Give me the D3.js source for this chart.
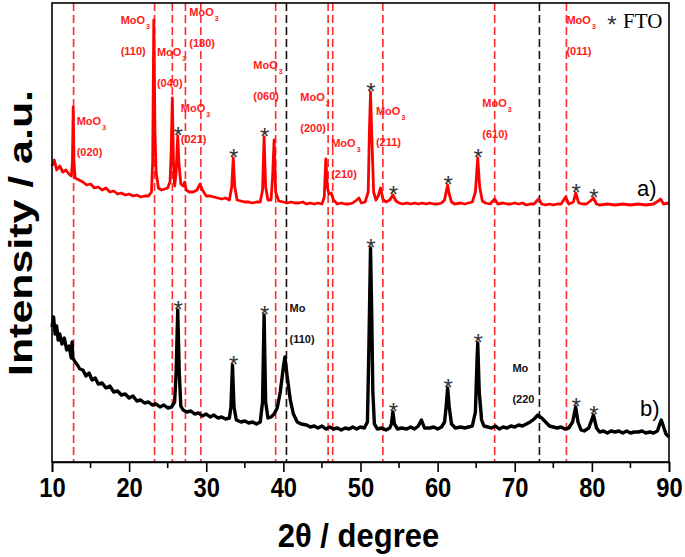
<!DOCTYPE html>
<html>
<head>
<meta charset="utf-8">
<script src="https://cdn.jsdelivr.net/npm/d3@7"></script>
<style>
  body { margin: 0; background: #fff; }
</style>
</head>
<body>
<svg id="chart" width="685" height="557" font-family="'Liberation Sans', Arial, sans-serif"></svg>
<script>
// XRD patterns, 2theta (degree) vs intensity (a.u.)
const seriesA = [
  [10.0, 296], [10.3, 302], [10.6, 292], [11.0, 296], [11.4, 290], [11.8, 292], [12.2, 288], [12.5, 286],
  [12.65, 300], [12.75, 355], [12.85, 300], [13.0, 284], [13.5, 282], [14.0, 280], [14.5, 277], [15.0, 278],
  [15.5, 274], [16.0, 275], [16.5, 272], [17.0, 274], [17.5, 270], [18.0, 271], [18.5, 268], [19.0, 269],
  [19.5, 267], [20.0, 268], [20.5, 266], [21.0, 267], [21.5, 265], [22.0, 266], [22.5, 266], [22.9, 270],
  [23.05, 300], [23.2, 442], [23.35, 330], [23.5, 290], [23.8, 274], [24.2, 272], [24.6, 273], [25.0, 274],
  [25.3, 280], [25.45, 310], [25.6, 364], [25.75, 300], [25.9, 276], [26.1, 290], [26.3, 326], [26.45, 300],
  [26.7, 278], [27.0, 276], [27.2, 280], [27.4, 272], [27.8, 270], [28.3, 270], [28.8, 272], [29.2, 278],
  [29.5, 272], [30.0, 266], [30.5, 266], [31.0, 265], [31.5, 264], [32.0, 263], [32.5, 264], [33.0, 262],
  [33.3, 275], [33.5, 304], [33.7, 275], [34.0, 262], [34.5, 261], [35.0, 260], [35.5, 260], [36.0, 259],
  [36.5, 260], [37.0, 260], [37.3, 272], [37.5, 325], [37.7, 275], [38.0, 262], [38.4, 262], [38.6, 285],
  [38.8, 322], [39.0, 270], [39.4, 261], [40.0, 260], [40.5, 259], [41.0, 260], [41.5, 259], [42.0, 259],
  [42.5, 260], [43.0, 258], [43.5, 259], [44.0, 258], [44.5, 259], [45.0, 258], [45.3, 265], [45.5, 303],
  [45.7, 275], [45.9, 268], [46.2, 269], [46.5, 262], [47.0, 258], [47.5, 259], [48.0, 258], [48.5, 258],
  [49.0, 259], [49.5, 262], [49.8, 264], [50.1, 259], [50.6, 260], [51.0, 270], [51.15, 330], [51.3, 370],
  [51.45, 330], [51.7, 270], [52.0, 262], [52.3, 266], [52.6, 274], [52.9, 263], [53.3, 260], [53.8, 262],
  [54.2, 267], [54.6, 261], [55.0, 259], [55.5, 258], [56.0, 259], [56.5, 258], [57.0, 259], [57.5, 258],
  [58.0, 259], [58.5, 258], [59.0, 259], [59.5, 258], [60.0, 258], [60.5, 259], [60.9, 262], [61.1, 270],
  [61.3, 277], [61.5, 268], [61.8, 260], [62.2, 258], [63.0, 259], [63.5, 258], [64.0, 259], [64.5, 260],
  [64.9, 270], [65.2, 304], [65.45, 275], [65.8, 261], [66.2, 259], [66.8, 258], [67.4, 263], [67.8, 258],
  [68.5, 259], [69.0, 258], [69.5, 258], [70.0, 259], [70.5, 258], [71.0, 259], [71.5, 257], [72.0, 258],
  [72.5, 258], [73.1, 263], [73.5, 258], [74.0, 257], [74.5, 258], [75.0, 257], [75.5, 258], [76.0, 258],
  [76.6, 265], [77.0, 258], [77.6, 260], [77.9, 269], [78.3, 259], [78.8, 258], [79.3, 258], [79.8, 261],
  [80.2, 264], [80.6, 258], [81.0, 257], [82.0, 258], [83.0, 257], [84.0, 258], [85.0, 257], [86.0, 258],
  [87.0, 257], [88.0, 258], [88.6, 261], [88.9, 263], [89.3, 258], [90.0, 259]
];

const seriesB = [
  [10.0, 135], [10.2, 145], [10.4, 128], [10.6, 136], [10.8, 122], [11.0, 128], [11.3, 118], [11.6, 124],
  [11.9, 112], [12.2, 116], [12.5, 104], [12.6, 120], [12.7, 104], [13.0, 100], [13.3, 97], [13.6, 93],
  [14.0, 92], [14.4, 86], [14.8, 89], [15.2, 82], [15.6, 84], [16.0, 78], [16.5, 79], [17.0, 74],
  [17.5, 76], [18.0, 70], [18.5, 71], [19.0, 67], [19.5, 68], [20.0, 64], [20.5, 66], [21.0, 61],
  [21.5, 62], [22.0, 59], [22.5, 60], [23.0, 57], [23.5, 58], [24.0, 55], [24.5, 57], [25.0, 54],
  [25.5, 55], [25.9, 60], [26.1, 90], [26.3, 152], [26.5, 90], [26.7, 56], [27.0, 52], [27.5, 50],
  [28.0, 51], [28.5, 48], [29.0, 49], [29.5, 46], [30.0, 48], [30.5, 45], [31.0, 47], [31.5, 44],
  [32.0, 45], [32.5, 43], [33.0, 44], [33.2, 55], [33.4, 97], [33.6, 55], [33.9, 42], [34.5, 40],
  [35.0, 41], [35.5, 39], [36.0, 40], [36.5, 38], [37.0, 40], [37.3, 60], [37.5, 147], [37.7, 60],
  [38.0, 44], [38.4, 45], [38.8, 48], [39.2, 54], [39.6, 70], [40.0, 95], [40.2, 105], [40.5, 85],
  [40.9, 62], [41.3, 48], [41.8, 40], [42.3, 38], [43.0, 37], [43.5, 35], [44.0, 36], [44.5, 34],
  [45.0, 36], [45.5, 33], [46.0, 35], [46.5, 33], [47.0, 34], [47.5, 32], [48.0, 34], [48.5, 33],
  [49.0, 35], [49.5, 33], [50.0, 35], [50.5, 34], [50.9, 40], [51.1, 120], [51.3, 214], [51.45, 150],
  [51.6, 70], [51.8, 38], [52.2, 33], [52.8, 34], [53.3, 32], [53.8, 34], [54.0, 38], [54.2, 50],
  [54.4, 38], [54.8, 33], [55.3, 34], [56.0, 33], [56.5, 35], [57.0, 33], [57.5, 36], [57.9, 42],
  [58.3, 34], [59.0, 34], [59.5, 35], [60.0, 33], [60.5, 35], [60.9, 40], [61.1, 55], [61.3, 74],
  [61.5, 55], [61.8, 38], [62.3, 34], [63.0, 35], [63.5, 34], [64.0, 35], [64.5, 36], [64.9, 50],
  [65.1, 100], [65.2, 119], [65.4, 70], [65.7, 42], [66.0, 36], [66.5, 35], [67.0, 34], [67.5, 36],
  [68.0, 33], [68.5, 35], [69.0, 34], [69.5, 36], [70.0, 35], [70.5, 37], [71.0, 36], [71.5, 38],
  [72.0, 40], [72.5, 43], [73.0, 47], [73.5, 44], [74.0, 40], [74.5, 36], [75.0, 35], [75.5, 34],
  [76.0, 35], [76.5, 33], [77.0, 34], [77.5, 40], [77.9, 55], [78.2, 40], [78.6, 32], [79.0, 31],
  [79.6, 34], [80.2, 47], [80.6, 34], [81.0, 30], [81.5, 31], [82.0, 29], [82.5, 31], [83.0, 30],
  [83.5, 31], [84.0, 29], [84.5, 31], [85.0, 29], [85.5, 30], [86.0, 30], [86.5, 31], [87.0, 29],
  [87.5, 30], [88.0, 29], [88.5, 31], [88.8, 38], [89.0, 42], [89.3, 35], [89.6, 28], [90.0, 25]
];

// reference line positions
const moo3Lines = [12.8, 23.3, 25.6, 27.3, 29.3, 39.0, 45.8, 46.4, 52.9, 67.4, 76.7];
const moLines = [40.4, 73.2];
const ftoPeaks = [26.3, 33.5, 37.5, 51.3, 54.2, 61.3, 65.2, 77.9, 80.2];

// phase labels: formula, subscript, hkl
const labelFormula = ["MoO", "MoO", "MoO", "MoO", "MoO", "MoO", "MoO", "MoO", "MoO", "MoO", "MoO", "Mo", "Mo"];
const labelSub = ["3", "3", "3", "3", "3", "3", "2", "3", "3", "3", "3", "", ""];
const labelHkl = ["(020)", "(110)", "(040)", "(180)", "(021)", "(060)", "(200)", "(210)", "(211)", "(610)", "(011)", "(110)", "(220"];
const labelPhase = ["MoO3", "MoO3", "MoO3", "MoO3", "MoO3", "MoO3", "MoO3", "MoO3", "MoO3", "MoO3", "MoO3", "Mo", "Mo"];

const xTicks = [10, 20, 30, 40, 50, 60, 70, 80, 90];

const svg = d3.select("#chart");
const margin = { left: 52, right: 16, top: 3, bottom: 95 };
const W = 685, H = 557;

const x = d3.scaleLinear().domain([10, 90]).range([margin.left, W - margin.right]);
const y = d3.scaleLinear().domain([0, 459]).range([H - margin.bottom, margin.top]);

// label anchor spots (2theta of left edge, intensity of first line baseline)
const labelAt = [
  [13.2, 337], [18.9, 438], [23.6, 406], [27.8, 446], [26.7, 350], [36.1, 393], [42.2, 361],
  [46.2, 315], [52.0, 347], [65.8, 355], [76.7, 438], [40.8, 150], [69.7, 90]
];

// dashed reference lines
svg.append("g")
  .selectAll("line")
  .data(moo3Lines.map((d) => ({ v: d, c: "#ff2a2a" })).concat(moLines.map((d) => ({ v: d, c: "#111" }))))
  .join("line")
  .attr("x1", (d) => x(d.v))
  .attr("x2", (d) => x(d.v))
  .attr("y1", y(459))
  .attr("y2", y(0))
  .attr("stroke", (d) => d.c)
  .attr("stroke-width", 1.6)
  .attr("stroke-dasharray", "8,4");

// patterns
const line = d3.line().x((d) => x(d[0])).y((d) => y(d[1]));

svg.append("path")
  .datum(seriesB)
  .attr("d", line)
  .attr("fill", "none")
  .attr("stroke", "#000")
  .attr("stroke-width", 3.4)
  .attr("stroke-linejoin", "round");

svg.append("path")
  .datum(seriesA)
  .attr("d", line)
  .attr("fill", "none")
  .attr("stroke", "#ff0000")
  .attr("stroke-width", 2.8)
  .attr("stroke-linejoin", "round");

// FTO asterisks above each substrate peak
function peakTop(series, angle) {
  return d3.max(series.filter((d) => Math.abs(d[0] - angle) < 0.3), (d) => d[1]);
}
const stars = [];
ftoPeaks.forEach((a) => {
  stars.push({ a: a, v: peakTop(seriesA, a) });
  stars.push({ a: a, v: peakTop(seriesB, a) });
});
svg.append("g")
  .selectAll("text")
  .data(stars)
  .join("text")
  .attr("x", (d) => x(d.a) + 0.5)
  .attr("y", (d) => y(d.v) + 8)
  .attr("text-anchor", "middle")
  .attr("font-size", 24)
  .attr("fill", "#333")
  .text("*");

// phase labels
const lab = svg.append("g").attr("font-weight", "bold").attr("font-size", 11);
labelFormula.forEach((f, i) => {
  const col = labelPhase[i] === "Mo" ? "#111" : "#ff1a1a";
  const px = x(labelAt[i][0]);
  const py = y(labelAt[i][1]);
  const t = lab.append("text").attr("x", px).attr("y", py).attr("fill", col).text(f);
  if (labelSub[i]) {
    t.append("tspan").attr("font-size", 7).attr("dy", 5).attr("dx", 1).text(labelSub[i]);
  }
  lab.append("text").attr("x", px).attr("y", py + 31).attr("fill", col).text(labelHkl[i]);
});

// frame
svg.append("rect")
  .attr("x", x(10))
  .attr("y", y(459))
  .attr("width", x(90) - x(10))
  .attr("height", y(0) - y(459))
  .attr("fill", "none")
  .attr("stroke", "#000")
  .attr("stroke-width", 1.6);

// x axis
const xAxis = svg.append("g")
  .attr("transform", `translate(0,${y(0)})`)
  .call(d3.axisBottom(x).tickValues(xTicks).tickSize(10).tickPadding(6).tickFormat(d3.format("d")));
xAxis.select(".domain").attr("stroke-width", 1.6);
xAxis.selectAll(".tick line").attr("stroke-width", 1.6);
// condensed bold digits, as in the figure
xAxis.selectAll(".tick text")
  .attr("font-family", null)
  .attr("font-weight", "bold")
  .attr("font-size", 27)
  .attr("fill", "#000")
  .attr("transform", "scale(0.88,1)");

// minor ticks
svg.append("g")
  .attr("transform", `translate(0,${y(0)})`)
  .selectAll("line")
  .data(d3.range(15, 90, 10))
  .join("line")
  .attr("x1", (d) => x(d))
  .attr("x2", (d) => x(d))
  .attr("y1", 0)
  .attr("y2", 6)
  .attr("stroke", "#000")
  .attr("stroke-width", 1.6);

// axis titles
svg.append("text")
  .attr("transform", `translate(${(x(10) + x(90)) / 2 - 2},547) scale(1,1.1)`)
  .attr("text-anchor", "middle")
  .attr("font-weight", "bold")
  .attr("font-size", 31)
  .text("2θ / degree");

svg.append("text")
  .attr("transform", `translate(32,233) rotate(-90) scale(1.3,1)`)
  .attr("text-anchor", "middle")
  .attr("font-weight", "bold")
  .attr("font-size", 33)
  .text("Intensity / a.u.");

// curve tags
svg.append("text").attr("x", 637).attr("y", 196).attr("font-size", 22).text("a)");
svg.append("text").attr("x", 640).attr("y", 416).attr("font-size", 22).text("b)");

// legend
svg.append("text").attr("x", 612).attr("y", 33).attr("text-anchor", "middle")
  .attr("font-size", 24).attr("fill", "#333").text("*");
svg.append("text").attr("x", 623).attr("y", 28)
  .attr("font-family", "'Liberation Serif', 'Times New Roman', serif")
  .attr("font-size", 21).text("FTO");
</script>
</body>
</html>
